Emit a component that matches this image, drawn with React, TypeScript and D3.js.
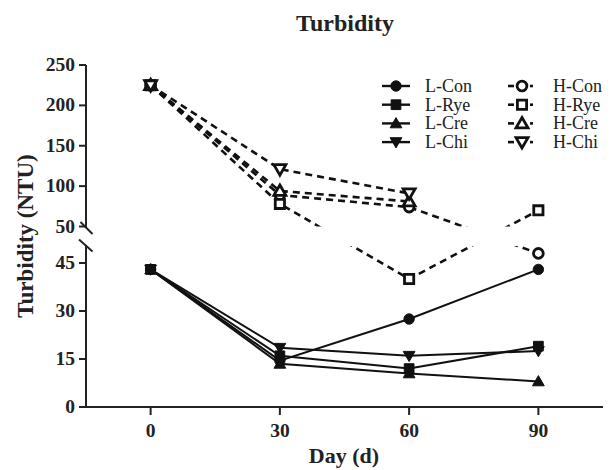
import React from "react";
import * as d3 from "d3";

// data (NTU per day)
const days = [0, 30, 60, 90];
const lCon = [43, 14.5, 27.5, 43];
const lRye = [43, 16, 12, 19];
const lCre = [43, 13.5, 10.5, 8];
const lChi = [43, 18.5, 16, 17.5];
const hCon = [225, 89, 74, 48];
const hRye = [225, 78, 40, 70];
const hCre = [225, 94, 81, null];
const hChi = [225, 121, 91, null];

const lowTicks = [0, 15, 30, 45];
const highTicks = [50, 100, 150, 200, 250];
const xTicks = [0, 30, 60, 90];

const series = [
  { name: "L-Con", values: lCon, shape: "circle", open: false },
  { name: "L-Rye", values: lRye, shape: "square", open: false },
  { name: "L-Cre", values: lCre, shape: "up", open: false },
  { name: "L-Chi", values: lChi, shape: "down", open: false },
  { name: "H-Con", values: hCon, shape: "circle", open: true },
  { name: "H-Rye", values: hRye, shape: "square", open: true },
  { name: "H-Cre", values: hCre, shape: "up", open: true },
  { name: "H-Chi", values: hChi, shape: "down", open: true },
];

const W = 615;
const H = 470;
const font = "'Liberation Serif', 'Times New Roman', serif";

const x = d3.scaleLinear().domain([-15, 105]).range([86, 603]);
const yLow = d3.scaleLinear().domain([0, 50]).range([407, 247]);
const yHigh = d3.scaleLinear().domain([50, 250]).range([226.5, 65]);
const y = (v: number) => (v <= 50 ? yLow(v) : yHigh(v));

const gapTop = 226.5;
const gapBottom = 246;

function symbolPath(shape: string, open: boolean) {
  const type =
    shape === "circle" ? d3.symbolCircle : shape === "square" ? d3.symbolSquare : d3.symbolTriangle;
  let size = shape === "circle" ? 85 : shape === "square" ? 95 : 60;
  if (open) size = shape === "circle" ? 75 : shape === "square" ? 85 : 62;
  return d3.symbol().type(type).size(size)() as string;
}

function Marker({ cx, cy, shape, open }: { cx: number; cy: number; shape: string; open: boolean }) {
  const rot = shape === "down" ? 180 : 0;
  const dy = shape === "up" ? 1 : shape === "down" ? -1 : 0;
  return (
    <path
      d={symbolPath(shape, open)}
      transform={`translate(${cx},${cy + dy}) rotate(${rot})`}
      fill={open ? "#fff" : "#111"}
      stroke="#111"
      strokeWidth={open ? 2.8 : 1}
    />
  );
}

export default function App() {
  const line = d3
    .line<number | null>()
    .defined((d) => d != null)
    .x((_, i) => x(days[i]))
    .y((d) => y(d as number));

  const lineEls = (clip: string) =>
    series.map((s) => (
      <path
        key={s.name + clip}
        d={line(s.values) as string}
        fill="none"
        stroke="#111"
        strokeWidth={s.open ? 2.6 : 2}
        strokeDasharray={s.open ? "7,5" : undefined}
        clipPath={`url(#${clip})`}
      />
    ));

  const legendRows = [0, 1, 2, 3];
  const rowY = (i: number) => 86 + i * 18.7;

  return (
    <svg width={W} height={H} style={{ position: "absolute", left: 0, top: 0, background: "#fff" }}>
      <defs>
        <clipPath id="clipHigh">
          <rect x={0} y={0} width={W} height={gapTop} />
        </clipPath>
        <clipPath id="clipLow">
          <rect x={0} y={gapBottom} width={W} height={H - gapBottom} />
        </clipPath>
      </defs>

      <text x={345} y={31} textAnchor="middle" fontFamily={font} fontWeight="bold" fontSize={24} fill="#222">
        Turbidity
      </text>

      {/* y axis, broken */}
      <g stroke="#222" strokeWidth={2} fill="none">
        <line x1={86} x2={86} y1={yHigh(250)} y2={228} />
        <line x1={86} x2={86} y1={245} y2={yLow(0)} />
        <line x1={80.5} y1={222} x2={92.5} y2={234} />
        <line x1={79} y1={239.5} x2={92.5} y2={251.5} />
        {highTicks.map((t) => (
          <line key={"h" + t} x1={79} x2={86} y1={yHigh(t)} y2={yHigh(t)} />
        ))}
        {lowTicks.map((t) => (
          <line key={"l" + t} x1={79} x2={86} y1={yLow(t)} y2={yLow(t)} />
        ))}
        {/* x axis */}
        <line x1={85} x2={603} y1={yLow(0)} y2={yLow(0)} />
        {xTicks.map((t) => (
          <line key={"x" + t} x1={x(t)} x2={x(t)} y1={yLow(0)} y2={yLow(0) + 8} />
        ))}
      </g>

      <g fontFamily={font} fontWeight="bold" fontSize={19.5} fill="#222">
        {highTicks.map((t) => (
          <text key={"ht" + t} x={75} y={yHigh(t) + 6} textAnchor="end">
            {t}
          </text>
        ))}
        {lowTicks.map((t) => (
          <text key={"lt" + t} x={75} y={yLow(t) + 6} textAnchor="end">
            {t}
          </text>
        ))}
        {xTicks.map((t) => (
          <text key={"xt" + t} x={x(t)} y={437} textAnchor="middle">
            {t}
          </text>
        ))}
      </g>

      <text x={344} y={463} textAnchor="middle" fontFamily={font} fontWeight="bold" fontSize={22} fill="#222">
        Day (d)
      </text>
      <text
        transform={`translate(33,236) rotate(-90)`}
        textAnchor="middle"
        fontFamily={font}
        fontWeight="bold"
        fontSize={23}
        fill="#222"
      >
        Turbidity (NTU)
      </text>

      {lineEls("clipHigh")}
      {lineEls("clipLow")}

      {series.map((s) =>
        s.values.map((v, i) =>
          v == null ? null : (
            <Marker key={s.name + i} cx={x(days[i])} cy={y(v)} shape={s.shape} open={s.open} />
          )
        )
      )}

      {/* legend */}
      <g fontFamily={font} fontSize={18} fill="#222">
        {legendRows.map((i) => {
          const l = series[i];
          const h = series[i + 4];
          const yy = rowY(i);
          return (
            <g key={"lg" + i}>
              <line x1={382} x2={410} y1={yy} y2={yy} stroke="#111" strokeWidth={2.4} />
              <Marker cx={396} cy={yy} shape={l.shape} open={false} />
              <text x={425} y={yy + 6}>{l.name}</text>
              <line x1={508} x2={514} y1={yy} y2={yy} stroke="#111" strokeWidth={2.6} />
              <line x1={530} x2={533} y1={yy} y2={yy} stroke="#111" strokeWidth={2.6} />
              <Marker cx={522} cy={yy} shape={h.shape} open={true} />
              <text x={553} y={yy + 6}>{h.name}</text>
            </g>
          );
        })}
      </g>
    </svg>
  );
}
